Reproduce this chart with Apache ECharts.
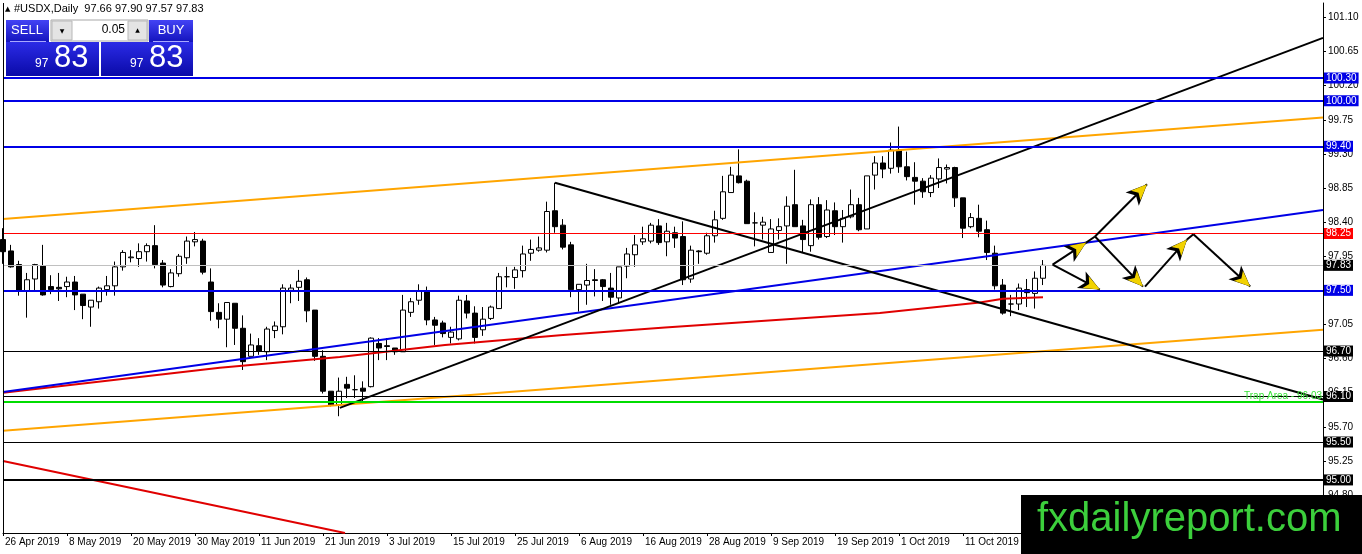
<!DOCTYPE html>
<html>
<head>
<meta charset="utf-8">
<title>#USDX,Daily</title>
<script src="https://cdn.jsdelivr.net/npm/echarts@6/dist/echarts.min.js"></script>
<style>
  html, body { margin: 0; padding: 0; background: #fff; }
  #chart { width: 1362px; height: 554px; }
</style>
</head>
<body>
<div id="chart"></div>
<script>
// daily bars, 26 Apr 2019 .. 25 Oct 2019
var opens = [
  98.17, 98.02, 97.84, 97.49, 97.65, 97.82, 97.55, 97.54, 97.55, 97.61,
  97.45, 97.28, 97.35, 97.51, 97.56, 97.81, 97.93, 97.92, 98.01, 98.09,
  97.86, 97.55, 97.72, 97.93, 98.14, 98.15, 97.61, 97.21, 97.12, 97.33,
  97.00, 96.63, 96.77, 96.69, 96.97, 97.02, 97.50, 97.54, 97.64, 97.24,
  96.63, 96.17, 95.99, 96.26, 96.19, 96.21, 96.23, 96.80, 96.77, 96.74,
  96.69, 97.21, 97.37, 97.49, 97.11, 97.07, 96.88, 96.86, 97.36, 97.20,
  96.98, 97.13, 97.26, 97.68, 97.67, 97.76, 97.99, 98.03, 98.03, 98.55,
  98.36, 98.10, 97.51, 97.57, 97.64, 97.64, 97.53, 97.40, 97.82, 97.97,
  98.14, 98.15, 98.35, 98.14, 98.26, 98.21, 97.65, 98.02, 97.99, 98.22,
  98.45, 98.79, 99.01, 98.94, 98.39, 98.36, 98.00, 98.29, 98.35, 98.63,
  98.35, 98.09, 98.63, 98.21, 98.55, 98.34, 98.47, 98.63, 98.31, 99.02,
  99.18, 99.11, 99.35, 99.13, 98.99, 98.94, 98.79, 98.97, 99.10, 99.12,
  98.72, 98.34, 98.45, 98.30, 97.99, 97.57, 97.32, 97.32, 97.51, 97.46,
  97.66
];
var highs = [
  98.32, 98.10, 97.89, 97.73, 97.85, 98.10, 97.70, 97.73, 97.68, 97.69,
  97.45, 97.37, 97.55, 97.69, 97.88, 98.03, 98.03, 98.12, 98.12, 98.36,
  97.90, 97.78, 97.98, 98.21, 98.27, 98.18, 97.79, 97.33, 97.34, 97.33,
  97.17, 96.93, 96.87, 97.02, 97.09, 97.58, 97.58, 97.77, 97.67, 97.24,
  96.71, 96.17, 96.35, 96.36, 96.38, 96.30, 96.88, 96.87, 96.87, 96.74,
  97.44, 97.40, 97.58, 97.55, 97.15, 97.10, 97.02, 97.43, 97.44, 97.29,
  97.28, 97.30, 97.73, 97.81, 97.81, 98.09, 98.17, 98.21, 98.67, 98.92,
  98.44, 98.14, 97.58, 97.85, 97.78, 97.65, 97.73, 97.81, 98.06, 98.23,
  98.34, 98.39, 98.44, 98.39, 98.34, 98.41, 98.09, 98.03, 98.26, 98.55,
  99.01, 99.13, 99.36, 98.96, 98.53, 98.47, 98.44, 98.45, 98.74, 99.09,
  98.43, 98.70, 98.73, 98.69, 98.66, 98.56, 98.83, 98.72, 99.01, 99.27,
  99.27, 99.45, 99.66, 99.33, 99.19, 98.98, 99.02, 99.24, 99.16, 99.13,
  98.72, 98.52, 98.63, 98.42, 98.09, 97.65, 97.44, 97.59, 97.65, 97.75,
  97.90
];
var lows = [
  97.85, 97.80, 97.43, 97.14, 97.49, 97.43, 97.45, 97.36, 97.41, 97.24,
  97.12, 97.02, 97.26, 97.43, 97.43, 97.76, 97.87, 97.81, 97.88, 97.79,
  97.54, 97.54, 97.68, 97.85, 98.08, 97.71, 97.10, 97.00, 96.75, 96.78,
  96.45, 96.63, 96.65, 96.58, 96.87, 96.92, 97.33, 97.36, 97.08, 96.57,
  96.14, 95.97, 95.84, 96.08, 96.08, 96.03, 96.22, 96.58, 96.58, 96.65,
  96.69, 97.15, 97.31, 97.04, 96.78, 96.88, 96.80, 96.84, 97.13, 96.80,
  96.90, 97.11, 97.26, 97.54, 97.52, 97.67, 97.89, 98.01, 98.00, 98.26,
  98.04, 97.41, 97.22, 97.31, 97.42, 97.36, 97.31, 97.33, 97.66, 97.81,
  98.10, 98.12, 98.10, 97.95, 98.06, 97.57, 97.60, 97.85, 97.97, 98.13,
  98.43, 98.79, 98.91, 98.38, 98.08, 98.17, 98.00, 98.17, 97.85, 98.34,
  98.00, 98.01, 98.17, 98.19, 98.23, 98.13, 98.45, 98.28, 98.31, 98.83,
  98.98, 99.04, 99.05, 98.95, 98.63, 98.72, 98.73, 98.85, 98.91, 98.60,
  98.19, 98.32, 98.20, 97.90, 97.51, 97.18, 97.16, 97.24, 97.28, 97.26,
  97.57
];
var closes = [
  98.01, 97.81, 97.49, 97.64, 97.84, 97.44, 97.51, 97.52, 97.61, 97.44,
  97.30, 97.37, 97.53, 97.56, 97.81, 98.00, 97.94, 98.01, 98.09, 97.84,
  97.57, 97.73, 97.95, 98.15, 98.17, 97.74, 97.22, 97.12, 97.34, 97.00,
  96.56, 96.78, 96.70, 96.99, 97.03, 97.53, 97.53, 97.62, 97.23, 96.63,
  96.17, 95.99, 96.17, 96.21, 96.19, 96.17, 96.87, 96.74, 96.76, 96.69,
  97.24, 97.35, 97.49, 97.11, 97.04, 96.93, 96.95, 97.37, 97.20, 96.88,
  97.12, 97.28, 97.68, 97.68, 97.77, 97.98, 98.04, 98.06, 98.54, 98.34,
  98.07, 97.51, 97.58, 97.63, 97.63, 97.55, 97.41, 97.81, 97.98, 98.10,
  98.18, 98.36, 98.13, 98.28, 98.19, 97.64, 98.03, 98.01, 98.22, 98.43,
  98.80, 99.02, 98.92, 98.38, 98.39, 98.40, 98.31, 98.34, 98.61, 98.34,
  98.17, 98.63, 98.20, 98.56, 98.34, 98.45, 98.63, 98.30, 99.01, 99.18,
  99.10, 99.35, 99.13, 99.00, 98.94, 98.80, 98.98, 99.12, 99.12, 98.72,
  98.32, 98.46, 98.28, 98.00, 97.56, 97.20, 97.32, 97.53, 97.47, 97.66,
  97.83
];

// one label every 8 bars
var xTickLabels = [
  '26 Apr 2019', '8 May 2019', '20 May 2019', '30 May 2019', '11 Jun 2019',
  '21 Jun 2019', '3 Jul 2019', '15 Jul 2019', '25 Jul 2019', '6 Aug 2019',
  '16 Aug 2019', '28 Aug 2019', '9 Sep 2019', '19 Sep 2019', '1 Oct 2019',
  '11 Oct 2019'
];
var yTickValues = [94.80, 95.25, 95.70, 96.15, 96.60, 97.05, 97.50, 97.95,
  98.40, 98.85, 99.30, 99.75, 100.20, 100.65, 101.10];

// horizontal levels
var levelValues = [100.30, 100.00, 99.40, 98.25, 97.83, 97.50, 96.70, 96.10, 95.50, 95.00];
var trapLevel = 96.03;

// drawn objects: [bar index, price]
var upperChannel = [[0, 98.44], [165, 99.78]];
var lowerChannel = [[0, 95.65], [165, 96.98]];
var blueTrend = [[0, 96.16], [165, 98.56]];
var fallingTrend = [[69, 98.92], [165, 96.06]];
var risingTrend = [[42.1, 95.95], [165, 100.83]];
var redChannel = [[0, 95.25], [42.75, 94.30]];
var movingAverage = [[0, 96.15], [27.1, 96.48], [42.1, 96.62], [55.25, 96.78], [70, 96.91],
  [82.75, 97.01], [109.6, 97.20], [122.1, 97.34], [125, 97.39], [130, 97.41]];
var arrowPaths = [
  [[131.2, 97.84], [137.1, 97.51]],
  [[131.2, 97.84], [135.4, 98.13]],
  [[136.5, 98.21], [143.0, 98.90]],
  [[136.5, 98.21], [142.5, 97.55]],
  [[142.75, 97.55], [148.0, 98.17]],
  [[148.8, 98.24], [155.9, 97.55]]
];
var arrowLinks = [
  [[135.4, 98.13], [136.5, 98.21]],
  [[148.0, 98.17], [148.8, 98.24]]
];

(function () {
  var myChart = echarts.init(document.getElementById('chart'));
  var font = 'Liberation Sans';
  var slots = 166;

  // trading days (weekdays) from 26 Apr 2019, plus empty slots to the right
  var categories = [];
  var d = Date.UTC(2019, 3, 26);
  while (categories.length < slots) {
    var day = new Date(d).getUTCDay();
    if (day !== 0 && day !== 6) categories.push(new Date(d).toISOString().slice(0, 10));
    d += 86400000;
  }

  var candles = [];
  for (var i = 0; i < opens.length; i++) {
    candles.push([opens[i], closes[i], lows[i], highs[i]]);
  }

  // level look
  var blue = '#0000e6';
  var kinds = ['blue', 'blue', 'blue', 'red', 'last', 'blue', 'black', 'black', 'black', 'bold'];
  var levelLines = levelValues.map(function (v, k) {
    var kind = kinds[k];
    var line = { color: blue, width: 2, type: 'solid' };
    var box = blue;
    if (kind === 'red') { line = { color: '#ff0000', width: 1, type: 'solid' }; box = '#ff0000'; }
    if (kind === 'last') { line = { color: '#c0c0c0', width: 1, type: 'solid' }; box = '#000'; }
    if (kind === 'black') { line = { color: '#000', width: 1, type: 'solid' }; box = '#000'; }
    if (kind === 'bold') { line = { color: '#000', width: 2, type: 'solid' }; box = '#000'; }
    return {
      yAxis: v,
      lineStyle: line,
      label: {
        show: true, position: 'end', distance: 1,
        formatter: v.toFixed(2),
        color: '#fff', backgroundColor: box,
        fontFamily: font, fontSize: 10, padding: [1, 2, 0, 2]
      }
    };
  });
  levelLines.push({
    yAxis: trapLevel,
    lineStyle: { color: '#00dd00', width: 2, type: 'solid' },
    label: {
      show: true, position: 'insideEndTop', distance: 1,
      formatter: 'Trap Area - ' + trapLevel.toFixed(2),
      color: '#39e039', fontFamily: font, fontSize: 10
    }
  });
  // left frame of the chart window
  levelLines.push({
    xAxis: 0,
    lineStyle: { color: '#000', width: 1, type: 'solid' },
    label: { show: false }
  });

  function trend(name, pts, color, width) {
    return {
      name: name, type: 'line', xAxisIndex: 1, yAxisIndex: 0,
      data: pts, symbol: 'none', clip: true, silent: true, z: 3,
      lineStyle: { color: color, width: width }
    };
  }

  function segs(list, withHead) {
    return list.map(function (p) {
      return [{ coord: p[0], symbol: 'none' }, { coord: p[1], symbol: withHead ? 'arrow' : 'none' }];
    });
  }

  var blackArrows = trend('arrows', [], '#000', 2);
  blackArrows.markLine = {
    silent: true, animation: false, symbolSize: [14, 21],
    lineStyle: { color: '#000', width: 2, type: 'solid' },
    label: { show: false },
    data: segs(arrowPaths, true).concat(segs(arrowLinks, false))
  };
  blackArrows.z = 4;
  var yellowHeads = trend('heads', [], '#000', 2);
  yellowHeads.markLine = {
    silent: true, animation: false, symbolSize: [10, 16],
    lineStyle: { color: '#f2d200', width: 0, type: 'solid' },
    label: { show: false },
    data: segs(arrowPaths, true)
  };
  yellowHeads.z = 5;

  var last = opens.length - 1;
  var header = '#USDX,Daily  ' + opens[last].toFixed(2) + ' ' + highs[last].toFixed(2) + ' ' +
    lows[last].toFixed(2) + ' ' + closes[last].toFixed(2);

  var btnFill = {
    type: 'linear', x: 0, y: 0, x2: 0, y2: 1,
    colorStops: [{ offset: 0, color: '#4343f5' }, { offset: 1, color: '#1414bd' }]
  };
  var boxFill = {
    type: 'linear', x: 0, y: 0, x2: 0, y2: 1,
    colorStops: [{ offset: 0, color: '#2b2be6' }, { offset: 1, color: '#0a0aa8' }]
  };

  var option = {
    animation: false,
    backgroundColor: '#fff',
    grid: { left: 3, right: 39, top: 3, bottom: 21, containLabel: false, outerBoundsMode: 'none' },
    xAxis: [{
      type: 'category',
      data: categories,
      boundaryGap: false,
      axisLine: { show: true, onZero: false, lineStyle: { color: '#000', width: 1 } },
      axisTick: {
        show: true, length: 3, lineStyle: { color: '#000' },
        interval: function (idx) { return idx % 8 === 0 && idx / 8 < xTickLabels.length; }
      },
      axisLabel: {
        show: true, color: '#000', fontFamily: font, fontSize: 10,
        align: 'left', margin: 4, padding: [0, 0, 0, 2], hideOverlap: false,
        interval: function (idx) { return idx % 8 === 0 && idx / 8 < xTickLabels.length; },
        formatter: function (value, idx) { return xTickLabels[idx / 8] || ''; }
      },
      splitLine: { show: false }
    }, {
      type: 'value', min: 0, max: slots - 1, show: false
    }],
    yAxis: [{
      type: 'value', position: 'right', min: 94.30, max: 101.29, scale: true,
      axisLine: { show: true, onZero: false, lineStyle: { color: '#000', width: 1 } },
      axisTick: { show: true, inside: false, length: 3, lineStyle: { color: '#000' }, customValues: yTickValues },
      axisLabel: {
        show: true, color: '#000', fontFamily: font, fontSize: 10, margin: 5,
        customValues: yTickValues,
        formatter: function (v) { return v.toFixed(2); }
      },
      splitLine: { show: false },
      minorTick: { show: false }
    }],
    series: [
      {
        name: 'USDX', type: 'candlestick', xAxisIndex: 0, yAxisIndex: 0,
        data: candles, barWidth: 5, clip: true, z: 2,
        itemStyle: { color: '#fff', color0: '#000', borderColor: '#000', borderColor0: '#000', borderWidth: 1 },
        markLine: { silent: true, animation: false, symbol: ['none', 'none'], data: levelLines }
      },
      trend('ma', movingAverage, '#e00000', 2),
      trend('blue trend', blueTrend, blue, 2),
      trend('upper channel', upperChannel, '#ffa500', 2),
      trend('lower channel', lowerChannel, '#ffa500', 2),
      trend('falling', fallingTrend, '#000', 2),
      trend('rising', risingTrend, '#000', 2),
      trend('red channel', redChannel, '#e00000', 2),
      blackArrows,
      yellowHeads
    ],
    graphic: [
      { type: 'text', x: 5, y: 9, z: 100, style: { text: '\u25B2', fill: '#000', font: '7px DejaVu Sans', verticalAlign: 'middle' } },
      { type: 'text', x: 14, y: 9, z: 100, style: { text: header, fill: '#000', font: '11px ' + font, verticalAlign: 'middle' } },
      // one click trading panel
      { type: 'rect', z: 100, shape: { x: 6, y: 20, width: 43, height: 22 }, style: { fill: btnFill } },
      { type: 'text', z: 101, x: 27, y: 30, style: { text: 'SELL', fill: '#fff', font: '13px ' + font, align: 'center', verticalAlign: 'middle' } },
      { type: 'rect', z: 100, shape: { x: 51, y: 20, width: 97, height: 21 }, style: { fill: '#fff', stroke: '#a8a8a8', lineWidth: 1 } },
      { type: 'rect', z: 101, shape: { x: 52, y: 21, width: 20, height: 19 }, style: { fill: '#e4e4e4', stroke: '#b8b8b8', lineWidth: 1 } },
      { type: 'text', z: 102, x: 62, y: 31, style: { text: '\u25BC', fill: '#000', font: '6px DejaVu Sans', align: 'center', verticalAlign: 'middle' } },
      { type: 'text', z: 101, x: 125, y: 30, style: { text: '0.05', fill: '#000', font: '12px ' + font, align: 'right', verticalAlign: 'middle' } },
      { type: 'rect', z: 101, shape: { x: 128, y: 21, width: 19, height: 19 }, style: { fill: '#e4e4e4', stroke: '#b8b8b8', lineWidth: 1 } },
      { type: 'text', z: 102, x: 137.5, y: 30, style: { text: '\u25B2', fill: '#000', font: '6px DejaVu Sans', align: 'center', verticalAlign: 'middle' } },
      { type: 'rect', z: 100, shape: { x: 149, y: 20, width: 44, height: 22 }, style: { fill: btnFill } },
      { type: 'text', z: 101, x: 171, y: 30, style: { text: 'BUY', fill: '#fff', font: '13px ' + font, align: 'center', verticalAlign: 'middle' } },
      { type: 'rect', z: 100, shape: { x: 6, y: 42, width: 93, height: 34 }, style: { fill: boxFill } },
      { type: 'rect', z: 100, shape: { x: 101, y: 42, width: 92, height: 34 }, style: { fill: boxFill } },
      { type: 'line', z: 101, shape: { x1: 10, y1: 41.5, x2: 46, y2: 41.5 }, style: { stroke: '#a8a8ff', lineWidth: 1 } },
      { type: 'line', z: 101, shape: { x1: 153, y1: 41.5, x2: 189, y2: 41.5 }, style: { stroke: '#a8a8ff', lineWidth: 1 } },
      { type: 'text', z: 101, x: 35, y: 64, style: { text: '97', fill: '#fff', font: '12px ' + font, verticalAlign: 'middle' } },
      { type: 'text', z: 101, x: 54, y: 58, style: { text: '83', fill: '#fff', font: '31px ' + font, verticalAlign: 'middle' } },
      { type: 'text', z: 101, x: 130, y: 64, style: { text: '97', fill: '#fff', font: '12px ' + font, verticalAlign: 'middle' } },
      { type: 'text', z: 101, x: 149, y: 58, style: { text: '83', fill: '#fff', font: '31px ' + font, verticalAlign: 'middle' } },
      // watermark
      { type: 'rect', z: 110, shape: { x: 1021, y: 495, width: 341, height: 59 }, style: { fill: '#000' } },
      { type: 'text', z: 111, x: 1037, y: 520, style: { text: 'fxdailyreport.com', fill: '#3ccf3c', font: '40px ' + font, verticalAlign: 'middle' } }
    ]
  };

  myChart.setOption(option);
  window.addEventListener('resize', function () {
    myChart.resize();
  });
})();
</script>
</body>
</html>
